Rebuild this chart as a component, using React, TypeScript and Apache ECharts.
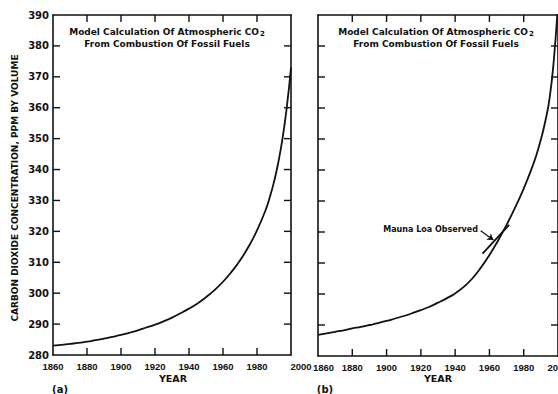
import React, { useEffect, useRef } from "react";
import * as echarts from "echarts";

// years shared by both model curves (finer steps where the curves steepen)
const years = [1860, 1865, 1870, 1875, 1880, 1885, 1890, 1895, 1900, 1905, 1910, 1915, 1920, 1925, 1930, 1935, 1940, 1945, 1950, 1955, 1960, 1965, 1970, 1975, 1980, 1985, 1987.5, 1990, 1992.5, 1995, 1997.5, 2000];

// (a) model calculation, ppm
const ppmA = [283.0, 283.3, 283.6, 283.9, 284.3, 284.8, 285.3, 285.9, 286.5, 287.2, 288.0, 288.9, 289.8, 290.9, 292.1, 293.5, 295.0, 296.7, 298.7, 301.0, 303.7, 306.9, 310.6, 315.0, 320.3, 326.8, 331.0, 336.0, 342.2, 350.0, 360.0, 373.0];

// (b) model calculation, ppm
const ppmB = [286.8, 287.3, 287.8, 288.3, 288.9, 289.4, 290.0, 290.6, 291.3, 292.1, 292.9, 293.8, 294.8, 295.9, 297.2, 298.6, 300.2, 302.3, 305.0, 308.5, 312.6, 317.2, 322.3, 327.9, 334.0, 341.0, 345.0, 349.8, 355.5, 362.8, 375.0, 394.0];

// Mauna Loa observed trend segment
const maunaYears = [1956, 1971.5];
const maunaPpm = [313.0, 322.3];

// axis ranges, tick steps and inner tick positions
const yearRange = [1860, 2000];
const yearStep = 20;
const ppmRange = [280, 390];
const ppmStep = 10;
const yearTicks = [1880, 1900, 1920, 1940, 1960, 1980];
const ppmTicks = [290, 300, 310, 320, 330, 340, 350, 360, 370, 380];

const titleLine1 = "Model Calculation Of Atmospheric CO";
const titleLine2 = "From Combustion Of Fossil Fuels";
const yName = "CARBON DIOXIDE CONCENTRATION, PPM BY VOLUME";
const xName = "YEAR";
const maunaLabel = "Mauna Loa Observed";

const INK = "#111";
const FONT = "DejaVu Sans";
const TICK_LEN = 7;

const mkAxisLine = () => ({ show: true, onZero: false, lineStyle: { color: INK, width: 1.6 } });

function App() {
  const ref = useRef<HTMLDivElement>(null);

  useEffect(() => {
    if (!ref.current) return;
    const chart = echarts.init(ref.current, undefined, { renderer: "svg" });

    const xLabelStyle = () => ({
      color: INK,
      fontFamily: "Liberation Sans",
      fontWeight: "bold" as const,
      fontSize: 9.5,
    });

    const mkXAxes = (gridIndex: number, shiftYear: number, shiftPad: number) => [
      {
        type: "value",
        gridIndex,
        position: "bottom",
        min: yearRange[0],
        max: yearRange[1],
        interval: yearStep,
        axisLine: mkAxisLine(),
        axisTick: { show: false },
        splitLine: { show: false },
        axisLabel: {
          ...xLabelStyle(),
          margin: 6,
          showMinLabel: true,
          showMaxLabel: true,
          formatter: (v: number) => (v === shiftYear ? `{s|${v}}` : String(v)),
          rich: { s: { ...xLabelStyle(), padding: [0, 0, 0, shiftPad] } },
        },
      },
      {
        type: "value",
        gridIndex,
        position: "top",
        min: yearRange[0],
        max: yearRange[1],
        interval: yearStep,
        axisLine: mkAxisLine(),
        axisTick: { show: false },
        splitLine: { show: false },
        axisLabel: { show: false },
      },
    ];

    const mkYAxes = (gridIndex: number, labels: boolean) => [
      {
        type: "value",
        gridIndex,
        position: "left",
        min: ppmRange[0],
        max: ppmRange[1],
        interval: ppmStep,
        axisLine: mkAxisLine(),
        axisTick: { show: false },
        splitLine: { show: false },
        axisLabel: {
          show: labels,
          color: INK,
          fontFamily: FONT,
          fontWeight: "bold",
          fontSize: 10,
          margin: 4,
        },
      },
      {
        type: "value",
        gridIndex,
        position: "right",
        min: ppmRange[0],
        max: ppmRange[1],
        interval: ppmStep,
        axisLine: mkAxisLine(),
        axisTick: { show: false },
        splitLine: { show: false },
        axisLabel: { show: false },
      },
    ];

    const pairs = (xs: number[], ys: number[]) => xs.map((x, i) => [x, ys[i]]);

    const tickStyle = { stroke: INK, lineWidth: 1.4 };

    // inward ticks on bottom and top edges
    const yearTickSeries = (axisIndex: number) => ({
      type: "custom",
      xAxisIndex: axisIndex,
      yAxisIndex: axisIndex,
      silent: true,
      data: yearTicks.map((y) => [y, ppmRange[0]]),
      renderItem: (_p: any, api: any) => {
        const yr = api.value(0);
        const b = api.coord([yr, ppmRange[0]]);
        const t = api.coord([yr, ppmRange[1]]);
        return {
          type: "group",
          children: [
            { type: "line", shape: { x1: b[0], y1: b[1], x2: b[0], y2: b[1] - TICK_LEN }, style: tickStyle },
            { type: "line", shape: { x1: t[0], y1: t[1], x2: t[0], y2: t[1] + TICK_LEN }, style: tickStyle },
          ],
        };
      },
    });

    // inward ticks on left and right edges
    const ppmTickSeries = (axisIndex: number) => ({
      type: "custom",
      xAxisIndex: axisIndex,
      yAxisIndex: axisIndex,
      silent: true,
      data: ppmTicks.map((v) => [yearRange[0], v]),
      renderItem: (_p: any, api: any) => {
        const v = api.value(1);
        const l = api.coord([yearRange[0], v]);
        const r = api.coord([yearRange[1], v]);
        return {
          type: "group",
          children: [
            { type: "line", shape: { x1: l[0], y1: l[1], x2: l[0] + TICK_LEN, y2: l[1] }, style: tickStyle },
            { type: "line", shape: { x1: r[0], y1: r[1], x2: r[0] - TICK_LEN, y2: r[1] }, style: tickStyle },
          ],
        };
      },
    });

    const titleText = (cx: number) => ({
      type: "text",
      x: cx,
      y: 26,
      style: {
        text: `{t|${titleLine1}}{sub|2}\n{t|${titleLine2}}`,
        align: "center",
        verticalAlign: "top",
        fill: INK,
        rich: {
          t: { fontFamily: FONT, fontWeight: "bold", fontSize: 9, fill: INK, lineHeight: 12 },
          sub: { fontFamily: FONT, fontWeight: "bold", fontSize: 7, fill: INK, padding: [4, 0, 0, 1], lineHeight: 12 },
        },
      },
    });

    const bottomText = (text: string, x: number, y: number, size: number) => ({
      type: "text",
      x,
      y,
      style: {
        text,
        align: "center",
        verticalAlign: "middle",
        fill: INK,
        fontFamily: FONT,
        fontWeight: "bold",
        fontSize: size,
      },
    });

    const curve = (axisIndex: number, values: number[]) => ({
      type: "line",
      xAxisIndex: axisIndex,
      yAxisIndex: axisIndex,
      data: pairs(years, values),
      smooth: 0.5,
      showSymbol: false,
      clip: true,
      lineStyle: { color: INK, width: 1.8 },
    });

    chart.setOption({
      animation: false,
      backgroundColor: "#fff",
      grid: [
        { left: 53, top: 15, width: 238, height: 340, outerBoundsMode: "none" },
        { left: 318, top: 15, width: 240, height: 341, outerBoundsMode: "none" },
      ],
      xAxis: [...mkXAxes(0, 2000, 20), ...mkXAxes(1, 1860, 11)],
      yAxis: [...mkYAxes(0, true), ...mkYAxes(1, false)],
      series: [
        yearTickSeries(0),
        ppmTickSeries(0),
        yearTickSeries(2),
        ppmTickSeries(2),
        curve(0, ppmA),
        curve(2, ppmB),
        {
          type: "line",
          xAxisIndex: 2,
          yAxisIndex: 2,
          data: pairs(maunaYears, maunaPpm),
          showSymbol: false,
          lineStyle: { color: INK, width: 1.8 },
          markLine: {
            silent: true,
            symbol: ["none", "arrow"],
            symbolSize: 6,
            label: { show: false },
            lineStyle: { color: INK, width: 1.2, type: "solid" },
            data: [[{ coord: [1954.9, 320.4] }, { coord: [1962.3, 317.4] }]],
          },
        },
      ],
      graphic: [
        titleText(167),
        titleText(436),
        {
          type: "text",
          x: 15,
          y: 188,
          rotation: Math.PI / 2,
          style: {
            text: yName,
            align: "center",
            verticalAlign: "middle",
            fill: INK,
            fontFamily: FONT,
            fontWeight: "bold",
            fontSize: 9,
          },
        },
        bottomText(xName, 173, 378, 9.5),
        bottomText(xName, 438, 378, 9.5),
        bottomText("(a)", 60, 389, 10),
        bottomText("(b)", 325, 389, 10),
        {
          type: "text",
          x: 478,
          y: 229,
          style: {
            text: maunaLabel,
            align: "right",
            verticalAlign: "middle",
            fill: INK,
            fontFamily: FONT,
            fontWeight: "bold",
            fontSize: 8,
          },
        },
      ],
    });

    return () => chart.dispose();
  }, []);

  return (
    <div
      ref={ref}
      style={{ position: "absolute", left: 0, top: 0, width: 558, height: 394 }}
    />
  );
}

export default App;
